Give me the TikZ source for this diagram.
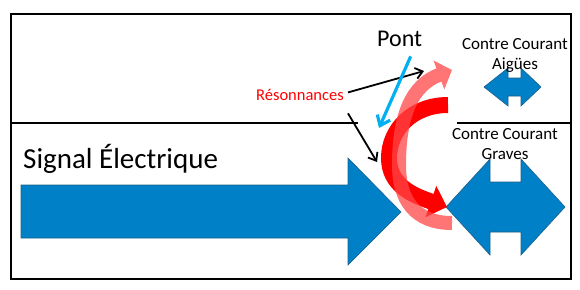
\documentclass[tikz,border=0pt]{standalone}
\usepackage{fontspec}
\setmainfont{Carlito}
\usepackage{xcolor}
\definecolor{SignalBlue}{HTML}{0080C6}
\definecolor{SignalEdge}{HTML}{1F5F8B}
\definecolor{SignalCyan}{HTML}{00B0F0}
\definecolor{SignalRed}{HTML}{FF0000}
\definecolor{SignalPink}{HTML}{FF4545}
\usepackage{tikz}
\usetikzlibrary{arrows.meta,calc}
\tikzset{
  slabel/.style={inner sep=0pt,align=center,font=\fontsize{17}{20}\selectfont},
  sbig/.style={inner sep=0pt,font=\fontsize{29}{32}\selectfont},
  spont/.style={inner sep=0pt,font=\fontsize{24}{28}\selectfont},
  sred/.style={inner sep=0pt,text=SignalRed,font=\fontsize{16.5}{18}\selectfont},
  sshape/.style={fill=SignalBlue,draw=SignalEdge,line width=0.6pt},
  sframe/.style={draw=black,line width=2pt},
  sflow/.style={-{Straight Barb[length=7pt,width=11pt]},line width=1.8pt},
  scyan/.style={-{Straight Barb[length=9pt,width=14pt]},draw=SignalCyan,line width=3.2pt},
  sbend/.style={draw=SignalRed,line width=16pt,-{Triangle[length=17pt,width=32pt]}},
  sbendsoft/.style={draw=SignalPink,line width=14pt,-{Triangle[length=14pt,width=30pt]}}
}

\begin{document}
\begin{tikzpicture}[x=1pt,y=-1pt]
  \useasboundingbox (0,0) rectangle (580,289);
  % frame and divider
  \draw[sframe] (11,14) rectangle (571,279);
  \draw[sframe] (11,123) -- (358,123);
  \draw[sframe] (457,123) -- (571,123);
  % blue arrows
  \draw[sshape] (21,185) -- (348,185) -- (348,158) -- (401,212) -- (348,265) -- (348,238) -- (21,238) -- cycle;
  \draw[sshape] (446,207) -- (490,159) -- (490,182) -- (521,182) -- (521,159) -- (565,207)
    -- (521,255) -- (521,232) -- (490,232) -- (490,255) -- cycle;
  \draw[sshape] (484,87) -- (508,68) -- (508,78) -- (521,78) -- (521,68) -- (541,87)
    -- (521,106) -- (521,96) -- (508,96) -- (508,106) -- cycle;
  % red curved arrows
  \draw[sbend] (448,105) .. controls (412,105) and (389,130) .. (389,158)
    .. controls (389,185) and (412,195) .. (447,207);
  \begin{scope}[transparency group,opacity=0.75]
    \draw[sbendsoft] (452,223) .. controls (415,223) and (399,200) .. (399,165)
      .. controls (399,115) and (412,85) .. (452,70);
  \end{scope}
  % labels
  \node[sbig,anchor=base west] (signal) at (23,168) {Signal Électrique};
  \node[spont,anchor=base west] (pont) at (377,46) {Pont};
  \node[sred,anchor=base west] (res) at (256,100) {Résonnances};
  \node[slabel,anchor=north] (aigues) at (515,38.5) {Contre Courant\\Aigües};
  \node[slabel,anchor=north] (graves) at (505,128.5) {Contre Courant\\Graves};
  % pointers
  \coordinate (resA) at (424,71);
  \coordinate (resB) at (377,162);
  \coordinate (pontTip) at (379,128);
  \draw[sflow] ([shift={(4pt,2pt)}]res.east) -- (resA);
  \draw[sflow] ([shift={(4pt,-13pt)}]res.south east) -- (resB);
  \draw[scyan] ([shift={(11pt,-10pt)}]pont.south) -- (pontTip);
\end{tikzpicture}
\end{document}
